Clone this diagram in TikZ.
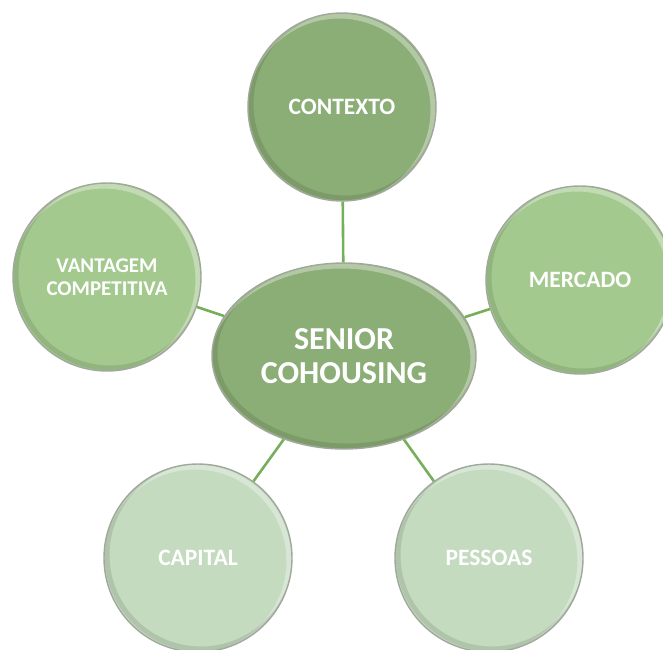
\documentclass[tikz,border=0pt]{standalone}
\usepackage{fontspec}
\setmainfont{Carlito}
\usepackage{tikz}
\usetikzlibrary{shapes.geometric, positioning, calc}
\definecolor{hubgreen}{RGB}{139, 173, 118}
\definecolor{midgreen}{RGB}{163, 201, 142}
\definecolor{palegreen}{RGB}{196, 219, 192}
\definecolor{linkgreen}{RGB}{119, 174, 90}
\definecolor{rimgray}{RGB}{160, 168, 155}

\tikzset{
    bevel/.style={path picture={
        \draw[white, opacity=0.35, line width=5pt] ([shift={(-3pt,-3pt)}]path picture bounding box.center) ellipse (#1);
        \draw[black, opacity=0.10, line width=5pt] ([shift={(3pt,3pt)}]path picture bounding box.center) ellipse (#1);
    }},
    bubble/.style={circle, minimum size=188pt, inner sep=0pt, draw=rimgray, line width=1.4pt,
        text=white, font=\bfseries\fontsize{23.5}{25}\selectfont, align=center, bevel={94pt and 94pt}},
    hub/.style={ellipse, minimum width=264pt, minimum height=186pt, inner sep=0pt, fill=hubgreen,
        draw=rimgray, line width=1.4pt, text=white, font=\bfseries\fontsize{32}{34}\selectfont,
        align=center, bevel={132pt and 93pt}},
    link/.style={linkgreen, line width=2.6pt}
}

\begin{document}
\begin{tikzpicture}[x=1pt, y=-1pt]
    % Frame of the page
    \useasboundingbox (0,0) rectangle (663,649);
    \clip (0,0) rectangle (663,649);

    % The hub
    \node[hub] (senior) at (344,356) {SENIOR\\COHOUSING};

    % The five bubbles
    \node[bubble, fill=hubgreen] (contexto) at (342,107) {CONTEXTO};
    \node[bubble, fill=midgreen] (mercado) at (580,280) {MERCADO};
    \node[bubble, fill=midgreen, font=\bfseries\fontsize{21}{23}\selectfont] (vantagem) at (107,277) {VANTAGEM\\COMPETITIVA};
    \node[bubble, fill=palegreen] (capital) at (198,558) {CAPITAL};
    \node[bubble, fill=palegreen] (pessoas) at (489,558) {PESSOAS};

    % Spokes
    \foreach \leaf in {contexto, mercado, vantagem, capital, pessoas} {
        \draw[link] (senior) -- (\leaf);
    }
\end{tikzpicture}
\end{document}
